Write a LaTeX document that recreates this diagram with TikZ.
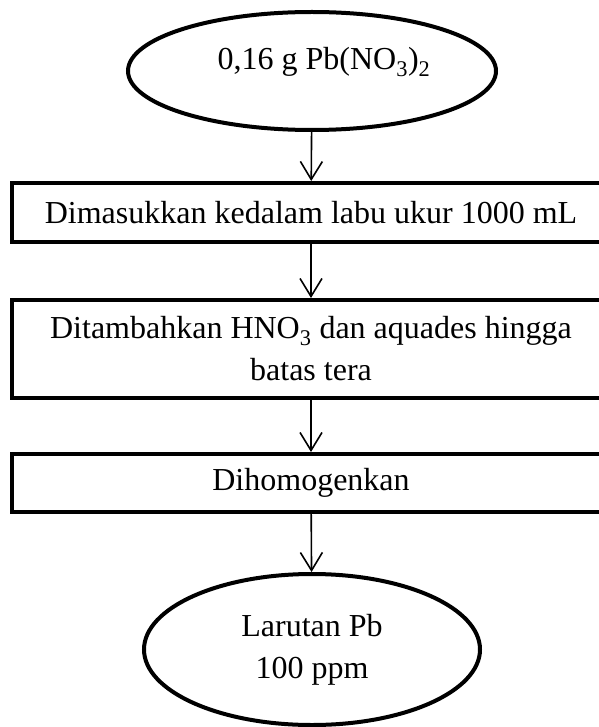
\documentclass[tikz,border=0pt]{standalone}
\usepackage{fontspec}
\setmainfont{Liberation Serif}
\usepackage{tikz}
\usetikzlibrary{positioning,arrows.meta,shapes.geometric}

\begin{document}
\begin{tikzpicture}[x=1pt, y=-1pt, font=\fontsize{32}{42}\selectfont,
  box/.style={draw=black, line width=4pt, rectangle, align=center,
    minimum width=598pt, inner sep=2pt, text=black},
  term/.style={box, ellipse, minimum width=368pt, minimum height=118pt},
  conn/.style={draw=black, line width=1.6pt,
    -{Straight Barb[length=18pt, width=22pt, line width=1.6pt]}}]
\useasboundingbox (0,0) rectangle (598,727);
\node[term, text height=22pt, text depth=24pt] (start) at (312, 71)
  {\hspace*{24pt}0,16 g Pb(NO\textsubscript{3})\textsubscript{2}};
\node[box, minimum height=59pt] (masuk) at (311, 212.5) {Dimasukkan kedalam labu ukur 1000 mL};
\node[box, minimum height=98pt] (tambah) at (311, 349) {Ditambahkan HNO\textsubscript{3} dan aquades hingga\\ batas tera};
\node[box, minimum height=58pt] (homo) at (311, 483) {Dihomogenkan};
\node[term, minimum width=336pt, minimum height=151pt] (larutan) at (312, 649.5) {Larutan Pb\\ 100 ppm};
\foreach \a/\b in {start/masuk,masuk/tambah,tambah/homo,homo/larutan}
  \draw[conn] (\a) -- (\b);
\end{tikzpicture}
\end{document}
